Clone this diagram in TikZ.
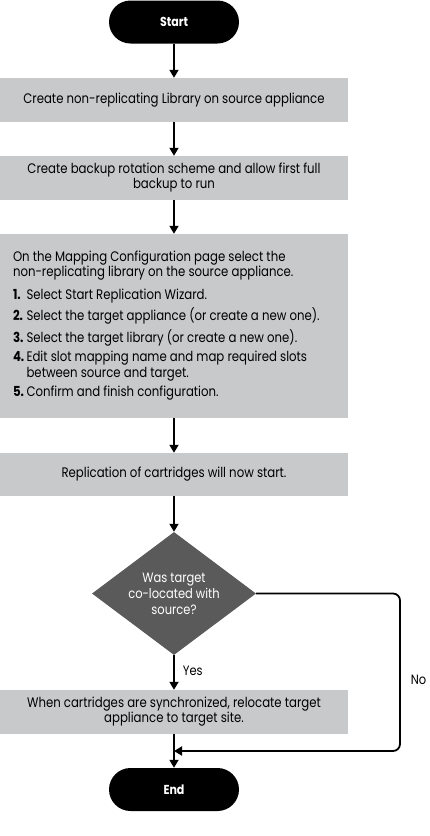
\documentclass[tikz,border=0pt]{standalone}
\usepackage{fontspec}
\setmainfont{Poppins}[FakeStretch=0.85]
\usetikzlibrary{arrows.meta,shapes.geometric}
\definecolor{boxgray}{HTML}{C8C9CB}
\definecolor{diagray}{HTML}{5A5A5A}
\tikzset{
  term/.style={rectangle,rounded corners=21.5pt,fill=black,minimum width=130pt,minimum height=43pt,inner sep=0pt,text=white,font=\fontsize{13}{15}\selectfont\bfseries},
  procbox/.style={rectangle,fill=boxgray,minimum width=348pt,minimum height=44pt,inner sep=0pt,align=center,font=\fontsize{13.8}{16.5}\selectfont},
  decide/.style={diamond,fill=diagray,minimum width=164pt,minimum height=123pt,inner sep=0pt,aspect=1.33,text=white,align=center,font=\fontsize{13.5}{16}\selectfont},
  flow/.style={line width=1.8pt,-{Triangle[length=8pt,width=9pt]}},
  lbl/.style={font=\fontsize{13.5}{15}\selectfont,inner sep=0pt}
}
\begin{document}
\begin{tikzpicture}[x=1pt,y=-1pt]
\useasboundingbox (0,0) rectangle (429,836);
\node[term] (start) at (174,22) {Start};
\node[procbox] (b1) at (174,100) {Create non-replicating Library on source appliance};
\node[procbox] (b2) at (174,178) {Create backup rotation scheme and allow first full\\[-1.5pt]backup to run};
\node[procbox,minimum height=184pt] (b3) at (174,326) {%
\begin{minipage}{322pt}\fontsize{13.8}{15.5}\selectfont
On the Mapping Configuration page select the\\
non-replicating library on the source appliance.\par\vspace{7pt}
\begin{tabular}{@{}l@{\,}l@{}}
\textbf{1.} & Select Start Replication Wizard.\\[4pt]
\textbf{2.} & Select the target appliance (or create a new one).\\[4pt]
\textbf{3.} & Select the target library (or create a new one).\\[4pt]
\textbf{4.} & Edit slot mapping name and map required slots\\
 & between source and target.\\[4pt]
\textbf{5.} & Confirm and finish configuration.
\end{tabular}
\end{minipage}};
\node[procbox,minimum height=43pt] (b4) at (174,474.5) {Replication of cartridges will now start.};
\node[decide] (d) at (174,593.5) {Was target\\co-located with\\source?};
\node[procbox] (b5) at (174,712) {When cartridges are synchronized, relocate target\\[-1.5pt]appliance to target site.};
\node[term] (end) at (174,789.5) {End};
\coordinate (merge) at (174,751);
\draw[flow] (start) -- (b1);
\draw[flow] (b1) -- (b2);
\draw[flow] (b2) -- (b3);
\draw[flow] (b3) -- (b4);
\draw[flow] (b4) -- (d);
\draw[flow] (d) -- node[lbl,right=8pt,pos=0.45] (yes) {Yes} (b5);
\draw[flow] (b5) -- (end);
\draw[flow,rounded corners=7pt] (d.east) -- (400,593.5) -- node[lbl,pos=0.55,right=10pt] (no) {No} (400,751) -- (merge);
\end{tikzpicture}
\end{document}
